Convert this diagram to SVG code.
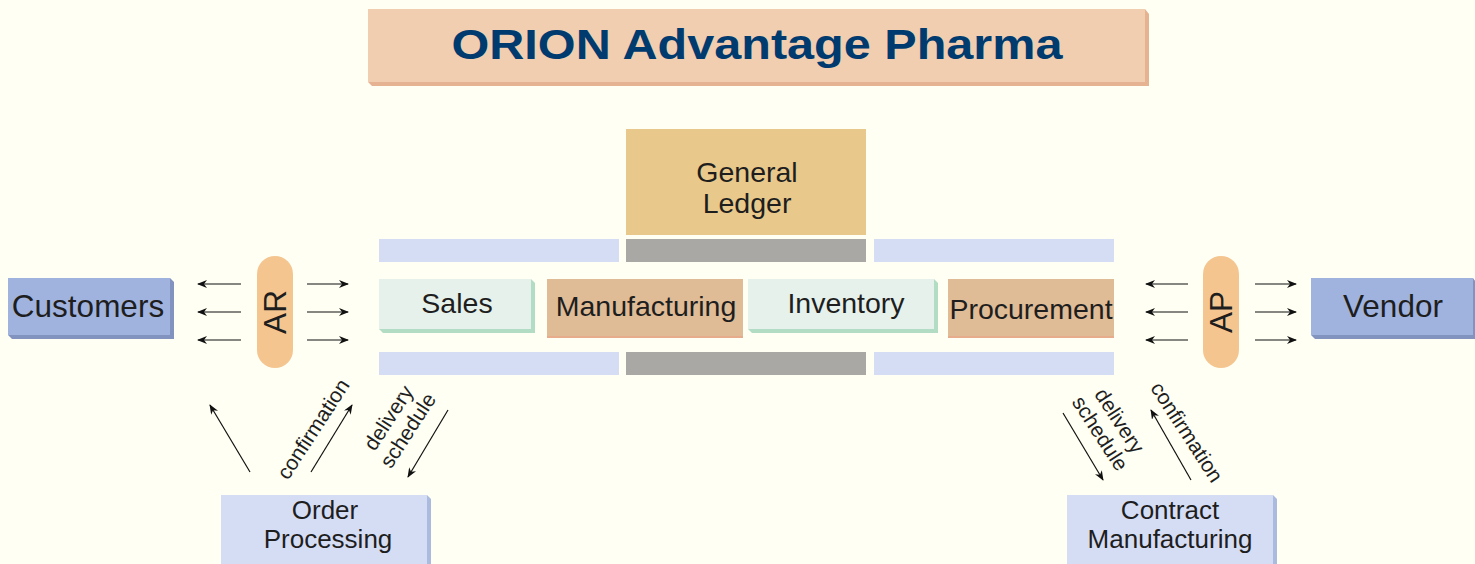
<svg xmlns="http://www.w3.org/2000/svg" width="1475" height="564" viewBox="0 0 1475 564">
<defs>
<marker id="ah" viewBox="0 0 10 8" refX="9" refY="4" markerWidth="10" markerHeight="8" markerUnits="userSpaceOnUse" orient="auto">
<path d="M0,0 L10,4 L0,8 L3,4 Z" fill="#111"/>
</marker>
<style>
.t{font-family:"Liberation Sans",Arial,sans-serif;fill:#1e1e1e;text-anchor:middle}
.big{font-size:31.5px}
.mid{font-size:28.5px}
.sm{font-size:26px}
.lbl{font-size:21px}
.ln{stroke:#111;stroke-width:1.2;fill:none;marker-end:url(#ah)}
.blue{fill:#d5ddf5}
.gray{fill:#a9a8a5}
.green{fill:#e6f1ec}
.greenS{fill:#b3dcc4}
.tan{fill:#dfbb96}
.tanS{fill:#e6ac8b}
.cust{fill:#a0b3de}
.custS{fill:#8393bf}
.pill{fill:#f5c590}
.lbS{fill:#abbbe0}
</style>
</defs>
<rect width="1475" height="564" fill="#fffff3"/>

<g id="title">
<polygon points="1145,9 1149,14 1149,86 372,86 368,82 1145,82" fill="#e5b292"/>
<rect x="368" y="9" width="777" height="73" fill="#f2ceb0"/>
<text x="757" y="59" font-family="'Liberation Sans',Arial,sans-serif" font-weight="bold" font-size="42" fill="#003b6f" text-anchor="middle" textLength="611" lengthAdjust="spacingAndGlyphs">ORION Advantage Pharma</text>
</g>

<g id="general-ledger">
<rect x="626" y="129" width="240" height="106" fill="#e8c98b"/>
<text class="t mid" x="747" y="182">General</text>
<text class="t mid" x="747" y="213">Ledger</text>
</g>

<g id="bars">
<rect class="blue" x="379" y="239" width="240" height="23"/>
<rect class="gray" x="626" y="239" width="240" height="23"/>
<rect class="blue" x="874" y="239" width="240" height="23"/>
<rect class="blue" x="379" y="352" width="240" height="23"/>
<rect class="gray" x="626" y="352" width="240" height="23"/>
<rect class="blue" x="874" y="352" width="240" height="23"/>
</g>

<g id="sales">
<polygon class="greenS" points="531,279 535,283 535,333 383,333 379,329 531,329"/>
<rect class="green" x="379" y="279" width="152" height="50"/>
<text class="t mid" x="457" y="313">Sales</text>
</g>

<g id="manufacturing">
<rect class="tanS" x="547" y="279" width="196" height="59"/>
<rect class="tan" x="547" y="279" width="196" height="57"/>
<text class="t mid" x="646" y="316">Manufacturing</text>
</g>

<g id="inventory">
<polygon class="greenS" points="934,279 938,283 938,333 752,333 748,329 934,329"/>
<rect class="green" x="748" y="279" width="186" height="50"/>
<text class="t mid" x="846" y="313">Inventory</text>
</g>

<g id="procurement">
<rect class="tanS" x="948" y="279" width="166" height="59"/>
<rect class="tan" x="948" y="279" width="166" height="57"/>
<text class="t mid" x="1031" y="319">Procurement</text>
</g>

<g id="customers">
<polygon class="custS" points="170,278 174,282 174,339 12,339 8,335 170,335"/>
<rect class="cust" x="8" y="278" width="162" height="57"/>
<text class="t big" x="88" y="317">Customers</text>
</g>

<g id="vendor">
<polygon class="custS" points="1473,278 1476,282 1476,339 1315,339 1311,335 1473,335"/>
<rect class="cust" x="1311" y="278" width="162" height="57"/>
<text class="t big" x="1393" y="317">Vendor</text>
</g>

<g id="ar">
<rect class="pill" x="257" y="256" width="36" height="112" rx="18"/>
<text class="t big" transform="translate(286,312) rotate(-90)" x="0" y="0">AR</text>
</g>

<g id="ap">
<rect class="pill" x="1203" y="256" width="36" height="112" rx="18"/>
<text class="t big" transform="translate(1232,312) rotate(-90)" x="0" y="0">AP</text>
</g>

<g id="order-processing">
<polygon class="lbS" points="427,495 431,499 431,564 221,564 221,564 427,564"/>
<rect class="blue" x="221" y="495" width="206" height="69"/>
<text class="t sm" x="325" y="519">Order</text>
<text class="t sm" x="328" y="548">Processing</text>
</g>

<g id="contract-manufacturing">
<polygon class="lbS" points="1273,495 1277,499 1277,564 1067,564 1067,564 1273,564"/>
<rect class="blue" x="1067" y="495" width="206" height="69"/>
<text class="t sm" x="1170" y="519">Contract</text>
<text class="t sm" x="1170" y="548">Manufacturing</text>
</g>

<g id="connectors">
<line class="ln" x1="241" y1="284" x2="198" y2="284"/>
<line class="ln" x1="241" y1="312" x2="198" y2="312"/>
<line class="ln" x1="241" y1="340" x2="198" y2="340"/>
<line class="ln" x1="307" y1="284" x2="348" y2="284"/>
<line class="ln" x1="307" y1="312" x2="348" y2="312"/>
<line class="ln" x1="307" y1="340" x2="348" y2="340"/>
<line class="ln" x1="1188" y1="284" x2="1146" y2="284"/>
<line class="ln" x1="1188" y1="312" x2="1146" y2="312"/>
<line class="ln" x1="1188" y1="340" x2="1146" y2="340"/>
<line class="ln" x1="1255" y1="284" x2="1296" y2="284"/>
<line class="ln" x1="1255" y1="312" x2="1296" y2="312"/>
<line class="ln" x1="1255" y1="340" x2="1296" y2="340"/>
<line class="ln" x1="250" y1="472" x2="210" y2="405"/>
<line class="ln" x1="311" y1="472" x2="352" y2="405"/>
<line class="ln" x1="448" y1="410" x2="408" y2="477"/>
<line class="ln" x1="1063" y1="413" x2="1103" y2="480"/>
<line class="ln" x1="1191" y1="480" x2="1151" y2="410"/>
<text class="t lbl" transform="translate(313,429) rotate(-57)" dy="0.35em">confirmation</text>
<text class="t lbl" transform="translate(398,424) rotate(-57)"><tspan x="0" dy="-0.2em">delivery</tspan><tspan x="0" dy="1.1em">schedule</tspan></text>
<text class="t lbl" transform="translate(1110,427) rotate(57)"><tspan x="0" dy="-0.2em">delivery</tspan><tspan x="0" dy="1.1em">schedule</tspan></text>
<text class="t lbl" transform="translate(1187,432) rotate(57)" dy="0.35em">confirmation</text>
</g>
</svg>
